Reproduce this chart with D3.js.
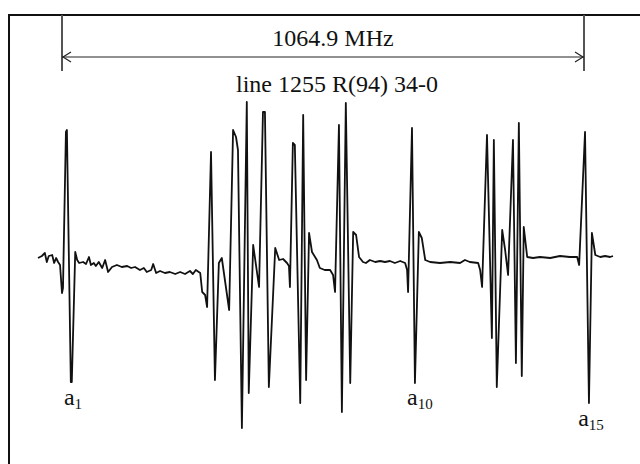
<!DOCTYPE html>
<html>
<head>
<meta charset="utf-8">
<script src="https://cdn.jsdelivr.net/npm/d3@7"></script>
<style>
  html, body { margin: 0; padding: 0; background: #fff; }
  svg { display: block; }
</style>
</head>
<body>
<div id="chart"></div>
<script>
// frequency offset (MHz) relative to a1, and detector signal (arb. units)
const traceFreq = [
  -49, -41, -35, -31, -27, -20, -16, -12, -8, -4, 0, 2, 8, 10, 18, 20, 27, 31, 35, 43,
  49, 55, 59, 65, 69, 75, 82, 88, 94, 102, 112, 122, 133, 141, 149, 159, 167, 173, 182, 186,
  192, 200, 210, 220, 231, 241, 251, 261, 267, 273, 282, 286, 292, 296, 304, 312, 320, 326, 341, 349,
  355, 359, 367, 377, 381, 390, 402, 410, 414, 422, 435, 443, 451, 459, 463, 465, 471, 475, 486, 492,
  498, 504, 510, 520, 526, 536, 547, 553, 557, 565, 571, 579, 588, 594, 600, 606, 614, 620, 628, 639,
  649, 659, 669, 679, 690, 700, 704, 706, 714, 720, 728, 734, 741, 751, 771, 792, 812, 822, 832, 849,
  853, 857, 867, 877, 881, 887, 898, 904, 910, 920, 926, 932, 938, 942, 949, 961, 975, 996, 1016, 1036,
  1051, 1055, 1067, 1075, 1081, 1088, 1098, 1108, 1118, 1124
];
const traceSignal = [
  4, 6, 9, 0, 6, 7, -1, 4, 0, -3, -31, -26, 130, 132, -120, -120, 10, 2, -1, 0,
  -2, 5, -3, -1, -4, 0, -6, 2, -10, -5, -3, -5, -4, -6, -5, -8, -6, -10, -8, -2,
  -11, -9, -11, -10, -12, -10, -12, -9, -12, -8, -11, -30, -33, -45, 110, -118, -1, 4, -48, 132,
  125, 112, -166, 160, -131, 17, -25, 150, 150, -125, 14, 2, 3, -1, -4, -25, 119, 117, -141, 147,
  -118, 29, 10, 2, -6, -8, -8, -13, -30, 137, -150, 159, -121, 30, 27, 5, 0, -1, 2, 0,
  1, 0, 1, -1, 1, -1, -8, -30, 134, -121, 30, 24, 2, 0, -1, 0, -1, 2, 0, -1,
  -8, -25, 127, -76, 122, -125, 32, 12, -13, 122, -101, 139, -114, 35, 5, 4, 5, 4, 6, 5,
  5, -3, 130, -141, 29, 7, 5, 6, 5, 6
];

const spanLabel = "1064.9 MHz";
const lineLabel = "line 1255 R(94) 34-0";
const componentNames = ["1", "10", "15"];
const componentFreq = [4, 704, 1053];
const spanStart = 0;
const spanEnd = 1064.9;

const width = 640, height = 464;
const svg = d3.select("#chart").append("svg")
  .attr("width", width)
  .attr("height", height);

const x = d3.scaleLinear().domain([0, 1064.9]).range([62, 584]);
const y = d3.scaleLinear().domain([-200, 200]).range([462, 62]);

const serif = "'Liberation Serif', 'DejaVu Serif', serif";

// frame (open to the right and bottom, cropped by the page)
svg.append("rect")
  .attr("x", 9).attr("y", 15)
  .attr("width", 700).attr("height", 500)
  .attr("fill", "none")
  .attr("stroke", "#111")
  .attr("stroke-width", 2);

// span bracket
const bracket = svg.append("g");
[spanStart, spanEnd].forEach((f) => {
  bracket.append("line")
    .attr("x1", x(f)).attr("x2", x(f))
    .attr("y1", 15).attr("y2", 71)
    .attr("stroke", "#555")
    .attr("stroke-width", 2);
});
bracket.append("line")
  .attr("x1", x(spanStart)).attr("x2", x(spanEnd))
  .attr("y1", 57).attr("y2", 57)
  .attr("stroke", "#222")
  .attr("stroke-width", 1.2);
bracket.append("path")
  .attr("d", `M${x(spanStart) + 9},${52} L${x(spanStart) + 1},${57} L${x(spanStart) + 9},${62}`)
  .attr("fill", "none").attr("stroke", "#222").attr("stroke-width", 1.2);
bracket.append("path")
  .attr("d", `M${x(spanEnd) - 9},${52} L${x(spanEnd) - 1},${57} L${x(spanEnd) - 9},${62}`)
  .attr("fill", "none").attr("stroke", "#222").attr("stroke-width", 1.2);

svg.append("text")
  .attr("x", x((spanStart + spanEnd) / 2) + 10)
  .attr("y", 46)
  .attr("text-anchor", "middle")
  .style("font-family", serif)
  .style("font-size", "24px")
  .attr("fill", "#111")
  .text(spanLabel);

svg.append("text")
  .attr("x", x((spanStart + spanEnd) / 2) + 14)
  .attr("y", 92)
  .attr("text-anchor", "middle")
  .style("font-family", serif)
  .style("font-size", "24px")
  .attr("fill", "#111")
  .text(lineLabel);

// trace
const points = traceFreq.map((f, i) => [f, traceSignal[i]]);
const line = d3.line()
  .x((d) => x(d[0]))
  .y((d) => y(d[1]));

svg.append("path")
  .datum(points)
  .attr("d", line)
  .attr("fill", "none")
  .attr("stroke", "#111")
  .attr("stroke-width", 1.8)
  .attr("stroke-linejoin", "round");

// component labels
const labelY = [405, 405, 426];
componentNames.forEach((n, i) => {
  const t = svg.append("text")
    .attr("x", x(componentFreq[i]))
    .attr("y", labelY[i])
    .style("font-family", serif)
    .style("font-size", "24px")
    .attr("fill", "#111");
  t.append("tspan").text("a");
  t.append("tspan")
    .attr("dy", 4)
    .style("font-size", "15px")
    .text(n);
});
</script>
</body>
</html>
